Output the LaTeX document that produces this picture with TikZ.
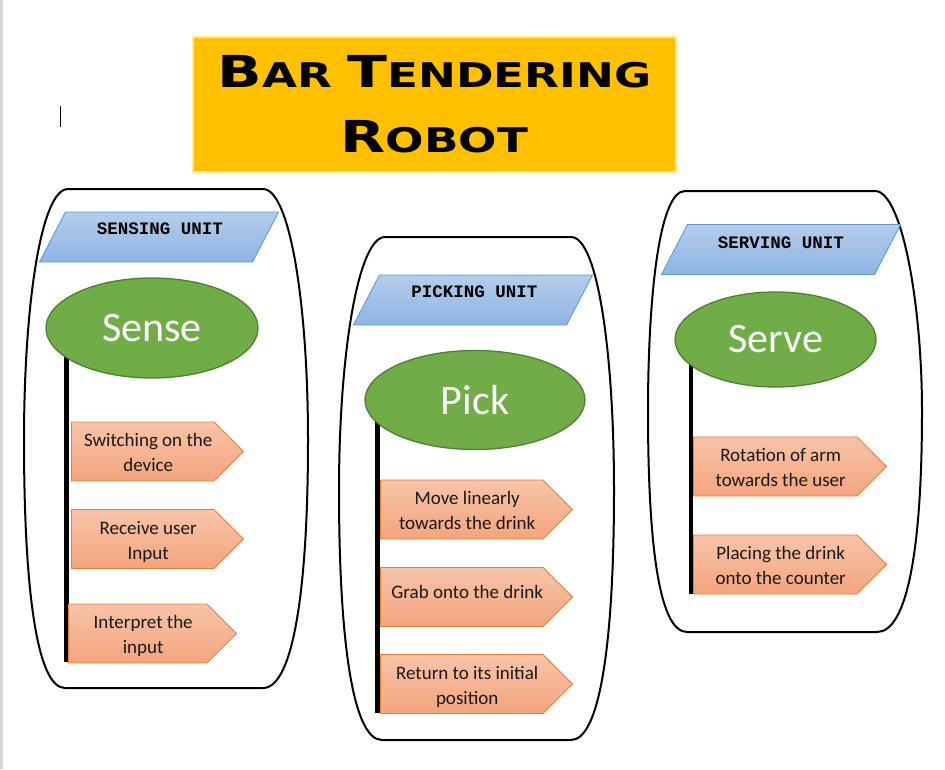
\documentclass[tikz,border=0pt]{standalone}
\usepackage{fontspec}
\setmainfont{Carlito}
\newfontfamily\unitfont{Liberation Mono}
\newfontfamily\titlefont{DejaVu Sans}
\usetikzlibrary{shapes.geometric,shapes.symbols,backgrounds}

\definecolor{titleorange}{HTML}{FFC000}
\definecolor{titleglow}{HTML}{FFE7A6}
\definecolor{bartop}{HTML}{B4CDEB}
\definecolor{barbottom}{HTML}{8EB4E3}
\definecolor{barline}{HTML}{5B9BD5}
\definecolor{ovalfill}{HTML}{70AD47}
\definecolor{ovalline}{HTML}{507E32}
\definecolor{tasktop}{HTML}{F8C4A8}
\definecolor{taskbottom}{HTML}{F4A47E}
\definecolor{taskline}{HTML}{ED7D31}
\definecolor{pagerule}{HTML}{D6D6D6}

\newcommand{\capbig}[1]{{\fontsize{44}{44}\selectfont #1}}
\newcommand{\capsmall}[1]{{\fontsize{34}{34}\selectfont #1}}
\newcommand{\tasktext}[1]{\hspace*{11pt}\begin{tabular}{@{}c@{}}\rule{0pt}{22.5pt}#1\end{tabular}}

\tikzset{
  titlebox/.style={rectangle, fill=titleorange, draw=titleglow, line width=2.5pt,
    minimum width=483pt, minimum height=135pt, align=center,
    font=\titlefont\bfseries\fontsize{34}{65}\selectfont},
  unitbar/.style={trapezium, trapezium left angle=62.5, trapezium right angle=117.5,
    inner xsep=93.5pt, inner ysep=25pt, text height=0pt, text depth=0pt,
    draw=barline, line width=0.9pt, top color=bartop, bottom color=barbottom},
  unitlabel/.style={anchor=base, inner sep=0pt,
    font=\unitfont\bfseries\fontsize{17.5}{20}\selectfont},
  oval/.style={ellipse, draw=ovalline, line width=1.3pt, fill=ovalfill, text=white,
    inner sep=0pt, font=\fontsize{42}{42}\selectfont},
  taskbox/.style={signal, signal to=east, signal pointer angle=90, draw=taskline,
    line width=0.9pt, top color=tasktop, bottom color=taskbottom, minimum height=59pt,
    anchor=west, inner sep=0pt, text=black!90, font=\fontsize{19}{25}\selectfont},
  stem/.style={line width=4.5pt},
  unitoutline/.style={line width=2pt, line join=round}
}

\begin{document}
\begin{tikzpicture}[x=1pt,y=-1pt]
  \useasboundingbox (0,0) rectangle (945,769);
  \fill[pagerule] (0,0) rectangle (2.5,769);
  \draw[line width=1pt] (60,106) -- (60,127);

  % title
  \node[titlebox] (title) at (434.5,104.5)
    {\scalebox{1.33}[1]{\capbig{B}\capsmall{AR} \capbig{T}\capsmall{ENDERING}}\\
     \scalebox{1.33}[1]{\capbig{R}\capsmall{OBOT}}};

  % unit outlines
  \draw[unitoutline] (68,189) -- (263,189) .. controls (290,189) and (308,305) .. (308,440)
    .. controls (308,590) and (293,688) .. (263,688) -- (65,688)
    .. controls (37,688) and (24,590) .. (24,440)
    .. controls (24,305) and (41,189) .. (68,189) -- cycle;
  \draw[unitoutline] (385,237) -- (571,237) .. controls (598,237) and (614,355) .. (614,490)
    .. controls (614,642) and (600,740) .. (571,740) -- (382,740)
    .. controls (353,740) and (339,642) .. (339,490)
    .. controls (339,355) and (358,237) .. (385,237) -- cycle;
  \draw[unitoutline] (685,191) -- (875,191) .. controls (902,191) and (922,305) .. (922,411)
    .. controls (922,550) and (907,632) .. (877,632) -- (687,632)
    .. controls (660,632) and (648,550) .. (648,411)
    .. controls (648,305) and (658,191) .. (685,191) -- cycle;

  % sensing unit
  \node[unitbar] (sensebar) at (159,237) {};
  \node[unitlabel] (senselabel) at (160,234) {SENSING UNIT};
  \node[oval, minimum width=212pt, minimum height=100pt] (sense) at (152,328) {Sense};
  \node[taskbox, minimum width=172pt] (sense1) at (71,451.5) {\tasktext{Switching on the\\device}};
  \node[taskbox, minimum width=172pt] (sense2) at (71,539) {\tasktext{Receive user\\Input}};
  \node[taskbox, minimum width=168pt] (sense3) at (68,633.5) {\tasktext{Interpret the\\input}};
  \coordinate (sensestem) at (66.5,662);

  % picking unit
  \node[unitbar] (pickbar) at (473,300) {};
  \node[unitlabel] (picklabel) at (474.5,297) {PICKING UNIT};
  \node[oval, minimum width=220pt, minimum height=99pt] (pick) at (475,400) {Pick};
  \node[taskbox, minimum width=192pt] (pick1) at (380,509.5) {\tasktext{Move linearly\\towards the drink}};
  \node[taskbox, minimum width=192pt] (pick2) at (380,597) {\tasktext{Grab onto the drink\\[-12pt]\mbox{}}};
  \node[taskbox, minimum width=192pt] (pick3) at (380,684) {\tasktext{Return to its initial\\position}};
  \coordinate (pickstem) at (377.5,713);

  % serving unit
  \node[unitbar] (servebar) at (781,249.5) {};
  \node[unitlabel] (servelabel) at (781,248) {SERVING UNIT};
  \node[oval, minimum width=201pt, minimum height=95pt] (serve) at (775.5,339.5) {Serve};
  \node[taskbox, minimum width=193pt] (serve1) at (693,466.5) {\tasktext{Rotation of arm\\towards the user}};
  \node[taskbox, minimum width=193pt] (serve2) at (693,564.5) {\tasktext{Placing the drink\\onto the counter}};
  \coordinate (servestem) at (691,594);

  \begin{scope}[on background layer]
    \draw[stem] (sense.center -| sensestem) -- (sensestem);
    \draw[stem] (pick.center -| pickstem) -- (pickstem);
    \draw[stem] (serve.center -| servestem) -- (servestem);
  \end{scope}
\end{tikzpicture}
\end{document}
